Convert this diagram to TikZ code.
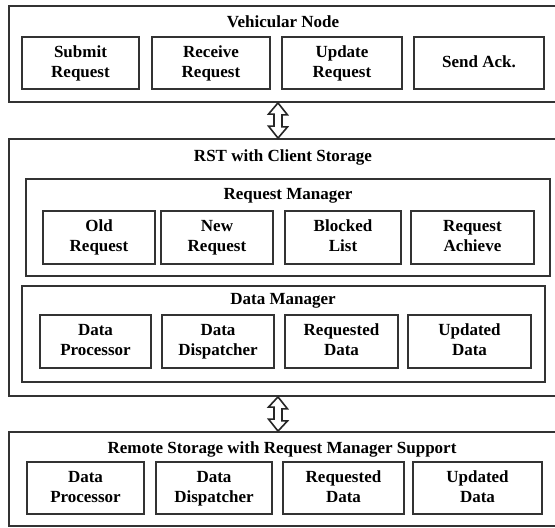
\documentclass[tikz,border=0pt]{standalone}
\usepackage{fontspec}
\setmainfont{Liberation Serif}
\usetikzlibrary{positioning}

\tikzset{
  every block/.style={draw=black!80, line width=1.8pt, fill=white},
  outer block/.style={every block, minimum width=553pt},
  inner block/.style={every block, minimum height=52pt, inner sep=0pt, align=center,
    font=\bfseries\fontsize{17}{20}\selectfont},
  block title/.style={inner sep=0pt, font=\bfseries\fontsize{17}{20}\selectfont},
  link arrow/.style={draw=black!85, line width=1.6pt, fill=white, line join=miter},
}

\begin{document}
\begin{tikzpicture}[x=1pt, y=-1pt]

\useasboundingbox (0,0) rectangle (555,528);

% outer layers
\node [outer block, minimum height=96pt] (vehicle) at (285.5,54) {};
\node [outer block, minimum height=257pt] (rst) at (285.5,267.5) {};
\node [outer block, minimum height=94pt] (remote) at (285.5,479) {};

% managers inside the RST
\node [every block, minimum width=524pt, minimum height=97pt] (reqman) at (288,227.5) {};
\node [every block, minimum width=523pt, minimum height=96pt] (dataman) at (283.5,334) {};

\node [block title] (vehicle-title) at (283,22) {Vehicular Node};
\node [block title] (rst-title) at (283,157) {RST with Client Storage};
\node [block title] (reqman-title) at (288,196) {Request Manager};
\node [block title] (dataman-title) at (283,301) {Data Manager};
\node [block title] (remote-title) at (282,449) {Remote Storage with Request Manager Support};

\foreach \t/\c/\w [count=\i] in {{Submit\\Request}/80.5/117, {Receive\\Request}/211/118,
    {Update\\Request}/342/120, {Send Ack.}/479/130}
  \node [inner block, minimum width=\w pt] (vehicle-\i) at (\c,63) {\strut\t\strut};

\foreach \t/\c/\w [count=\i] in {{Old\\Request}/99/112, {New\\Request}/217/112,
    {Blocked\\List}/343/116, {Request\\Achieve}/472.5/123}
  \node [inner block, minimum width=\w pt, minimum height=53pt] (reqman-\i) at (\c,237.5) {\strut\t\strut};

\foreach \t/\c/\w [count=\i] in {{Data\\Processor}/95.5/111, {Data\\Dispatcher}/218/112,
    {Requested\\Data}/341.5/113, {Updated\\Data}/469.5/123}
  \node [inner block, minimum width=\w pt, minimum height=53pt] (dataman-\i) at (\c,341.5) {\strut\t\strut};

\foreach \t/\c/\w [count=\i] in {{Data\\Processor}/85.5/117, {Data\\Dispatcher}/214/116,
    {Requested\\Data}/343.5/121, {Updated\\Data}/477.5/129}
  \node [inner block, minimum width=\w pt] (remote-\i) at (\c,488) {\strut\t\strut};

% links between the layers
\coordinate (link-x) at (278,0);

\draw [link arrow] (vehicle.south -| link-x) -- ++(9.5,12) -- ++(-5.5,0) -- ++(0,12)
  -- ++(5.5,0) -- (rst.north -| link-x) -- ++(-9.5,-12) -- ++(5.5,0) -- ++(0,-12)
  -- ++(-5.5,0) -- cycle;

\draw [link arrow] (rst.south -| link-x) -- ++(9.5,12) -- ++(-5.5,0) -- ++(0,12)
  -- ++(5.5,0) -- (remote.north -| link-x) -- ++(-9.5,-12) -- ++(5.5,0) -- ++(0,-12)
  -- ++(-5.5,0) -- cycle;

\end{tikzpicture}
\end{document}
